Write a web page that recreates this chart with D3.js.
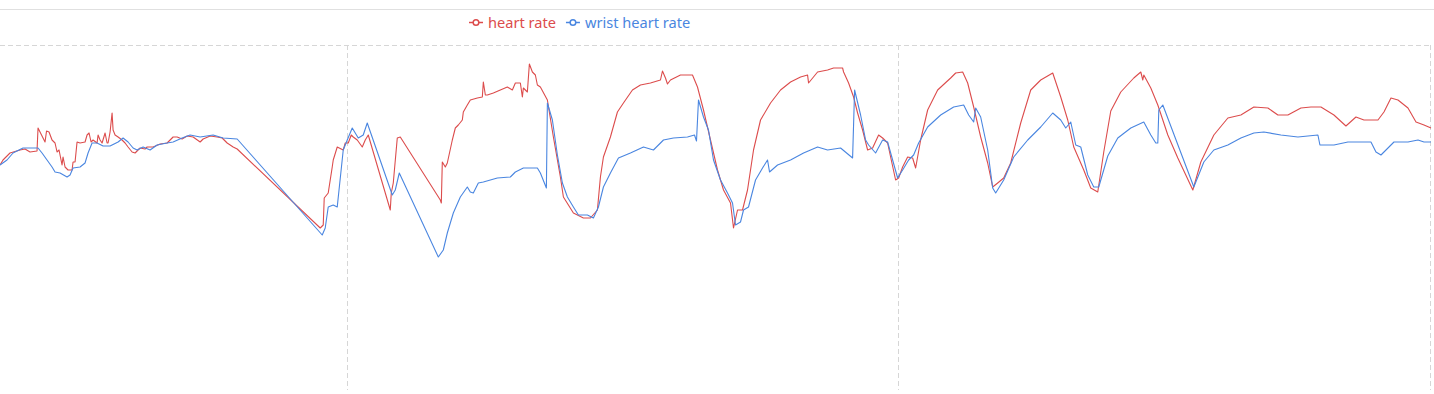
<!DOCTYPE html>
<html><head><meta charset="utf-8">
<script src="https://cdn.jsdelivr.net/npm/d3@7/dist/d3.min.js"></script>
<style>html,body{margin:0;padding:0;background:#fff;overflow:hidden}</style>
</head><body>
<svg id="chart" width="1434" height="394"></svg>
<script>
// time in seconds, heart rate in bpm
const seriesNames = ["heart rate", "wrist heart rate"];
const seriesColors = ["#dc4c4c", "#4a86e0"];
const xTicks = [696, 1796, 2860];
const yMax = 200, yMin = 27.5;

const heartRate = [
[0,140],[6,142.5],[20,146],[40,147.5],[50,148],[60,146.5],[74,147],[76,158.5],[78,157.5],[83,155],[90,151.5],[93,157],[98,156.5],[104,152.5],[110,151],[114,146.5],[118,147.5],[124,140],[126,144],[130,139],[136,137.5],[144,137.5],[146,141.5],[150,141.5],[154,151.5],[160,151],[170,151.5],[174,155],[178,156],[182,151.5],[186,152.5],[194,151],[196,155],[200,152.5],[204,151],[210,156],[214,151],[216,151],[220,156.5],[224,166],[226,157.5],[230,155],[236,154],[244,152.5],[250,151],[256,149],[264,146.5],[270,146],[280,148.5],[290,148],[294,149],[306,149],[320,150.5],[334,151],[346,154],[354,154],[364,153],[374,154.5],[386,154],[400,151.5],[406,153],[420,154.5],[434,154],[444,153.5],[454,151],[466,149],[474,148],
[640,108.5],[646,110],[648,123.5],[656,126],[664,139],[666,142.5],[674,149],[686,147.5],[690,151],[696,151],[702,155],[706,154],[714,152.5],[724,149],[730,152.5],[736,155],
[780,117.5],[782,126],[786,131],[794,153.5],[800,154],[880,122.5],[882,121],[884,141.5],[890,139],[894,141],[904,152.5],[910,158.5],[916,160],[924,162.5],[926,166.5],[934,170],[940,172.5],[954,173.5],[964,174],[966,181.5],[970,175],[974,175],[986,176],[1000,177.5],[1014,179],[1024,177.5],[1030,181],[1040,181],[1044,174],[1046,178.5],[1054,176.5],[1058,190.5],[1064,186.5],[1070,185],[1074,180],[1080,179],[1094,172.5],[1106,154],[1120,134],[1126,124],[1146,116],[1166,113.5],[1180,113.5],[1194,117.5],[1200,134],[1206,144],[1220,154],[1234,166.5],[1246,171],[1264,177.5],[1280,180],[1300,181],[1320,182.5],[1324,187],[1330,183.5],[1334,180.5],[1340,182.5],[1360,185],[1384,185],[1394,179],[1406,167.5],[1420,152.5],[1434,137.5],[1446,127.5],[1460,121],[1466,108.5],[1474,117.5],[1484,117.5],[1494,127.5],[1506,147.5],[1520,162.5],[1540,171],[1560,177.5],[1580,181.5],[1600,184],[1614,185],[1616,181],[1634,186.5],[1654,187.5],[1666,188.5],[1684,188.5],[1686,186.5],[1696,181],[1706,174],[1714,166],[1724,157.5],[1734,147.5],[1744,148.5],[1756,155],[1764,153.5],[1774,151],[1780,144],[1790,132.5],[1796,133.5],[1804,139],[1814,144],[1824,143.5],[1830,138.5],[1840,152.5],[1854,167.5],[1874,177.5],[1900,183.5],[1910,186],[1924,186.5],[1934,181],[1946,169],[1960,154],[1974,141],[1984,129],[1994,131],[2006,133.5],[2020,141],[2040,161],[2060,177.5],[2080,182.5],[2104,186],[2120,174],[2134,162.5],[2146,149],[2166,137.5],[2180,128.5],[2194,126.5],[2206,146.5],[2220,167],[2240,176.5],[2266,183.5],[2280,186.5],[2284,182.5],[2286,185],[2300,178.5],[2314,170],[2334,155],[2354,143.5],[2384,127.5],[2400,141.5],[2426,155],[2454,163.5],[2480,165],[2506,169],[2534,168.5],[2554,165],[2574,165],[2600,168.5],[2620,169],[2640,169],[2666,165],[2690,159.5],[2710,164],[2726,162.5],[2754,162.5],[2766,166.5],[2780,173.5],[2794,172.5],[2814,168.5],[2830,161.5],[2846,160],[2860,158.5]
];

const wristHeartRate = [
[0,140],[14,142.5],[26,146],[46,148.5],[60,148.5],[76,148.5],[84,146],[94,142.5],[104,139],[110,136.5],[120,136],[134,134],[140,135],[146,138.5],[160,139],[170,141],[176,146],[184,151],[194,151],[206,149.5],[220,149.5],[236,151.5],[246,153.5],[256,151.5],[266,148.5],[274,147.5],[286,149],[300,147.5],[314,150],[334,151],[346,151.5],[364,153.5],[380,155],[400,154],[426,155],[446,153.5],[474,153],
[644,105],[650,108.5],[656,119],[666,120],[674,119],[686,147.5],[694,152.5],[704,158.5],[716,153.5],[726,155],[734,161],
[784,125],[790,127.5],[798,136],[876,94],[886,97.5],[894,106],[906,116],[920,124],[934,129],[940,126.5],[946,126],[956,131],[966,131.5],[994,133.5],[1020,134],[1030,136.5],[1046,138.5],[1074,138.5],[1080,136],[1092,128.5],[1094,171],[1104,162.5],[1114,145],[1124,131],[1134,124],[1146,119],[1156,115],[1174,115],[1186,113.5],[1196,119],[1206,129],[1220,136],[1236,143.5],[1260,146],[1286,149],[1306,147.5],[1326,152.5],[1346,153.5],[1374,154],[1388,155],[1392,152],[1396,172.5],[1406,164],[1416,157.5],[1426,142.5],[1440,132.5],[1454,126],[1464,121],[1470,110],[1480,111.5],[1486,117.5],[1496,119],[1510,132.5],[1524,138.5],[1534,142.5],[1538,136.5],[1554,140],[1580,142.5],[1606,146],[1634,149],[1654,147.5],[1680,148.5],[1704,143.5],[1708,177.5],[1720,165],[1730,152.5],[1736,150],[1750,146],[1764,152.5],[1774,151.5],[1784,142.5],[1794,133.5],[1804,137.5],[1816,142.5],[1826,145],[1836,151],[1854,159],[1880,165],[1906,169],[1926,170],[1936,165],[1946,161.5],[1950,168.5],[1960,164],[1974,147.5],[1984,128.5],[1990,126],[2006,132.5],[2026,144],[2054,152.5],[2080,159],[2104,166],[2120,162.5],[2130,158.5],[2140,161.5],[2150,150],[2160,149],[2174,135],[2186,129],[2196,129],[2214,144.5],[2234,153.5],[2260,158.5],[2286,161.5],[2300,155],[2310,151],[2314,151],[2316,167.5],[2324,170],[2386,129],[2406,141.5],[2426,147.5],[2454,150],[2480,153.5],[2506,156],[2526,156.5],[2560,155],[2594,154],[2634,155],[2638,150],[2666,150],[2694,151.5],[2740,151.5],[2750,146.5],[2760,145],[2786,151.5],[2814,151.5],[2834,152.5],[2846,151.5],[2860,151.5]
];

const svg = d3.select("#chart");
const W = 1434, H = 394;
const grid = {left: 0, right: 1431, top: 45, bottom: 390};

const x = d3.scaleLinear().domain([0, 2860]).range([grid.left, grid.right]);
const y = d3.scaleLinear().domain([yMin, yMax]).range([grid.bottom, grid.top]);

// top separator line
svg.append("line").attr("x1", 0).attr("x2", W).attr("y1", 9.5).attr("y2", 9.5)
  .attr("stroke", "#e0e0e0").attr("stroke-width", 1);

// horizontal split line at top
svg.append("line").attr("x1", grid.left).attr("x2", grid.right)
  .attr("y1", y(yMax) + 0.5).attr("y2", y(yMax) + 0.5)
  .attr("stroke", "#d6d6d6").attr("stroke-dasharray", "5,3");

// vertical split lines
svg.append("g").selectAll("line").data(xTicks).join("line")
  .attr("x1", d => Math.round(x(d)) - 0.5).attr("x2", d => Math.round(x(d)) - 0.5)
  .attr("y1", grid.top).attr("y2", grid.bottom)
  .attr("stroke", "#d6d6d6").attr("stroke-dasharray", "5,3");

const line = d3.line().x(d => x(d[0])).y(d => y(d[1]));
[heartRate, wristHeartRate].forEach((s, i) => {
  svg.append("path").datum(s).attr("d", line)
    .attr("fill", "none").attr("stroke", seriesColors[i]).attr("stroke-width", 1.1)
    .attr("stroke-linejoin", "round");
});

// legend
const legend = svg.append("g").attr("font-family", "'Noto Sans', sans-serif").attr("font-size", 14.6);
let lx = 469;
seriesNames.forEach((name, i) => {
  const g = legend.append("g").attr("transform", `translate(${lx},22)`);
  g.append("line").attr("x1", 0).attr("x2", 14).attr("y1", 0.5).attr("y2", 0.5)
    .attr("stroke", seriesColors[i]).attr("stroke-width", 1.5);
  g.append("circle").attr("cx", 7).attr("cy", 0.5).attr("r", 2.8)
    .attr("fill", "#fff").attr("stroke", seriesColors[i]).attr("stroke-width", 1.5);
  const t = g.append("text").attr("x", 19).attr("y", 5.5).attr("fill", seriesColors[i]).text(name);
  lx += 19 + t.node().getComputedTextLength() + 10;
});
</script>
</body></html>
